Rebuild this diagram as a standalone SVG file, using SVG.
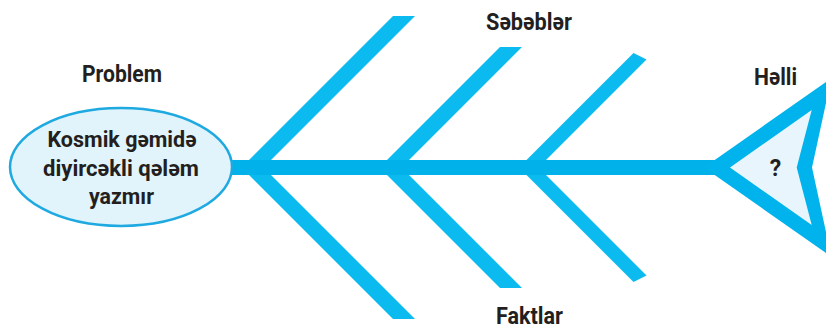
<svg xmlns="http://www.w3.org/2000/svg" width="826" height="329" viewBox="0 0 826 329">
  <style>
    .lbl { font-family: Roboto, "Liberation Sans", sans-serif; font-weight: 700; fill: #231f20; text-anchor: middle; }
    .bone { fill: #0bbbef; }
    .spine { fill: #00b1ea; }
  </style>
  <rect width="826" height="329" fill="#ffffff"/>
  <g id="connectors">
    <rect class="spine" x="225" y="160" width="490" height="15"/>
    <!-- set 1 -->
    <polygon class="bone" points="393,16 415,16 263.5,167.5 241.5,167.5"/>
    <polygon class="bone" points="241.5,167.5 263.5,167.5 415,319 393,319"/>
    <!-- set 2 -->
    <polygon class="bone" points="500,47 522,47 401.5,167.5 379.5,167.5"/>
    <polygon class="bone" points="379.5,167.5 401.5,167.5 522,288 500,288"/>
    <!-- set 3 -->
    <polygon class="bone" points="633.5,53 646.5,59.5 538.5,167.5 519,167.5"/>
    <polygon class="bone" points="519,167.5 538.5,167.5 646.5,275.5 633.5,282"/>
    <rect class="spine" x="225" y="160" width="490" height="15"/>
  </g>
  <g id="problem">
    <text class="lbl" x="122" y="82" font-size="23.5" textLength="80" lengthAdjust="spacingAndGlyphs">Problem</text>
    <ellipse cx="121" cy="167" rx="111" ry="59" fill="#e1f3fb" stroke="#1ea9e1" stroke-width="2.5"/>
    <text class="lbl" x="122" y="147" font-size="22.5" textLength="149" lengthAdjust="spacingAndGlyphs">Kosmik gəmidə</text>
    <text class="lbl" x="121" y="175.5" font-size="22.5" textLength="156" lengthAdjust="spacingAndGlyphs">diyircəkli qələm</text>
    <text class="lbl" x="121.5" y="203.5" font-size="22.5" textLength="65" lengthAdjust="spacingAndGlyphs">yazmır</text>
  </g>
  <g id="causes">
    <text class="lbl" x="529" y="30" font-size="23" textLength="86" lengthAdjust="spacingAndGlyphs">Səbəblər</text>
  </g>
  <g id="facts">
    <text class="lbl" x="529.5" y="324" font-size="23.5" textLength="67" lengthAdjust="spacingAndGlyphs">Faktlar</text>
  </g>
  <g id="solution">
    <text class="lbl" x="775.5" y="85" font-size="24" textLength="43" lengthAdjust="spacingAndGlyphs">Həlli</text>
    <polygon points="704,167.5 831.4,78.2 812,167.5 831.4,256.8" fill="#00b3ec"/>
    <polygon points="730,167.5 811.7,110 796.7,167.5 811.7,225" fill="#e8f5fc"/>
    <text class="lbl" x="775.5" y="176" font-size="23">?</text>
  </g>
</svg>
